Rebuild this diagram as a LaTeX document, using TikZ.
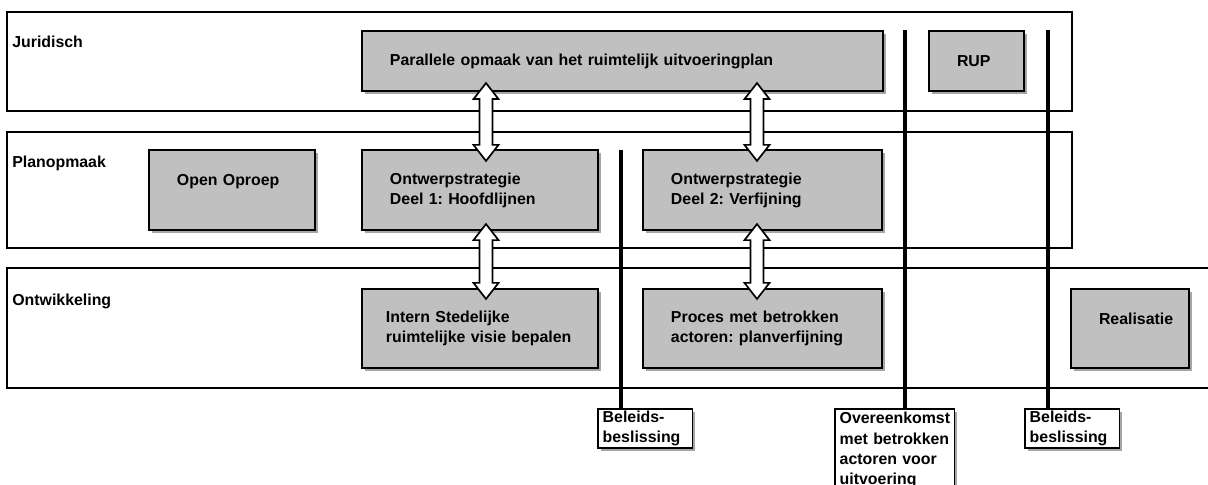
\documentclass[tikz,border=0pt]{standalone}
\usepackage{fontspec}
\setmainfont{Liberation Sans}
\usetikzlibrary{calc,shadows}
\definecolor{boxgray}{RGB}{192,192,192}
\hyphenpenalty=10000
\exhyphenpenalty=10000
\frenchspacing
\begin{document}
\begin{tikzpicture}[x=0.025cm, y=-0.025cm,
        every node/.style={font=\bfseries\fontsize{11.3}{14.3}\selectfont},
        lane/.style={rectangle, draw, line width=1.2pt, inner sep=0pt},
        lanetitle/.style={anchor=base west, inner sep=0pt},
        box/.style={rectangle, draw, line width=1.5pt, fill=boxgray, align=left, inner sep=0pt,
            drop shadow={shadow xshift=2pt, shadow yshift=-2pt, fill=black, opacity=0.35}},
        mbox/.style={rectangle, draw, line width=1.3pt, fill=white, align=left, anchor=north west,
            inner xsep=3.4pt, inner ysep=1.5pt,
            drop shadow={shadow xshift=2pt, shadow yshift=-2pt, fill=black, opacity=0.35}},
        mline/.style={line width=3pt},
        blockarrow/.style={draw, fill=white, line width=1.2pt,
            to path={let \p1=(\tikztostart), \p2=(\tikztotarget) in
                (\x1,\y1) -- (\x1+8.9pt,\y1-11.4pt) -- (\x1+4.6pt,\y1-11.4pt)
                -- (\x2+4.6pt,\y2+11.4pt) -- (\x2+8.9pt,\y2+11.4pt) -- (\x2,\y2)
                -- (\x2-8.9pt,\y2+11.4pt) -- (\x2-4.6pt,\y2+11.4pt)
                -- (\x1-4.6pt,\y1-11.4pt) -- (\x1-8.9pt,\y1-11.4pt) -- cycle}}
    ]
        \useasboundingbox (0,0) rectangle (1208,485);

        % lanes
        \node[lane, minimum width=26.625cm, minimum height=2.475cm] (jur) at (539.5,61.5) {};
        \node[lane, minimum width=26.625cm, minimum height=2.9cm] (plan) at (539.5,190) {};
        \node[lane, minimum width=30.325cm, minimum height=3cm] (ontw) at (613.5,328) {};
        \node[lanetitle] (tjur) at (12,48) {Juridisch};
        \node[lanetitle] (tplan) at (12,168) {Planopmaak};
        \node[lanetitle] (tontw) at (12,305) {Ontwikkeling};

        % milestone lines
        \coordinate (ms1) at (621,150);
        \coordinate (ms2) at (905,30);
        \coordinate (ms3) at (1048,30);
        \node[mbox, text width=2.125cm, minimum height=0.975cm] (bes1) at (597,408) {Beleids-\\beslissing};
        \node[mbox, text width=2.75cm, inner ysep=2.5pt] (overeen) at (834,408) {Overeenkomst\\met betrokken\\actoren voor\\uitvoering};
        \node[mbox, text width=2.125cm, minimum height=0.975cm] (bes2) at (1024,408) {Beleids-\\beslissing};
        \draw[mline] (ms1) -- (ms1 |- bes1.north);
        \draw[mline] (ms2) -- (ms2 |- overeen.north);
        \draw[mline] (ms3) -- (ms3 |- bes2.north);

        % activities
        \node[box, minimum width=13.025cm, minimum height=1.5cm, text width=11.625cm] (parallel) at (622.5,61) {Parallele opmaak van het ruimtelijk uitvoeringplan};
        \node[box, minimum width=2.375cm, minimum height=1.5cm, text width=0.975cm] (rup) at (976.5,61) {RUP};
        \node[box, minimum width=4.15cm, minimum height=2cm, text width=2.75cm] (oproep) at (232,190) {Open Oproep\\\mbox{}};
        \node[box, minimum width=5.9cm, minimum height=2cm, text width=4.5cm] (ontwerp1) at (480,190) {Ontwerpstrategie\\Deel 1: Hoofdlijnen};
        \node[box, minimum width=5.975cm, minimum height=2cm, text width=4.575cm] (ontwerp2) at (762.5,190) {Ontwerpstrategie\\Deel 2: Verfijning};
        \node[box, minimum width=5.9cm, minimum height=1.975cm, text width=4.7cm] (intern) at (480,328.5) {Intern Stedelijke\\ruimtelijke visie bepalen};
        \node[box, minimum width=5.975cm, minimum height=1.975cm, text width=4.575cm] (proces) at (762.5,328.5) {Proces met betrokken\\actoren: planverfijning};
        \node[box, minimum width=2.95cm, minimum height=1.975cm, text width=1.55cm] (realisatie) at (1130,328.5) {Realisatie\\\mbox{}};

        % exchanges
        \coordinate (ax1) at (486,0);
        \coordinate (ax2) at (757,0);
        \draw[blockarrow] ($(parallel.south -| ax1)+(0,-9)$) to ($(ontwerp1.north -| ax1)+(0,12)$);
        \draw[blockarrow] ($(ontwerp1.south -| ax1)+(0,-7)$) to ($(intern.north -| ax1)+(0,11)$);
        \draw[blockarrow] ($(parallel.south -| ax2)+(0,-9)$) to ($(ontwerp2.north -| ax2)+(0,12)$);
        \draw[blockarrow] ($(ontwerp2.south -| ax2)+(0,-7)$) to ($(proces.north -| ax2)+(0,11)$);
    \end{tikzpicture}
\end{document}
